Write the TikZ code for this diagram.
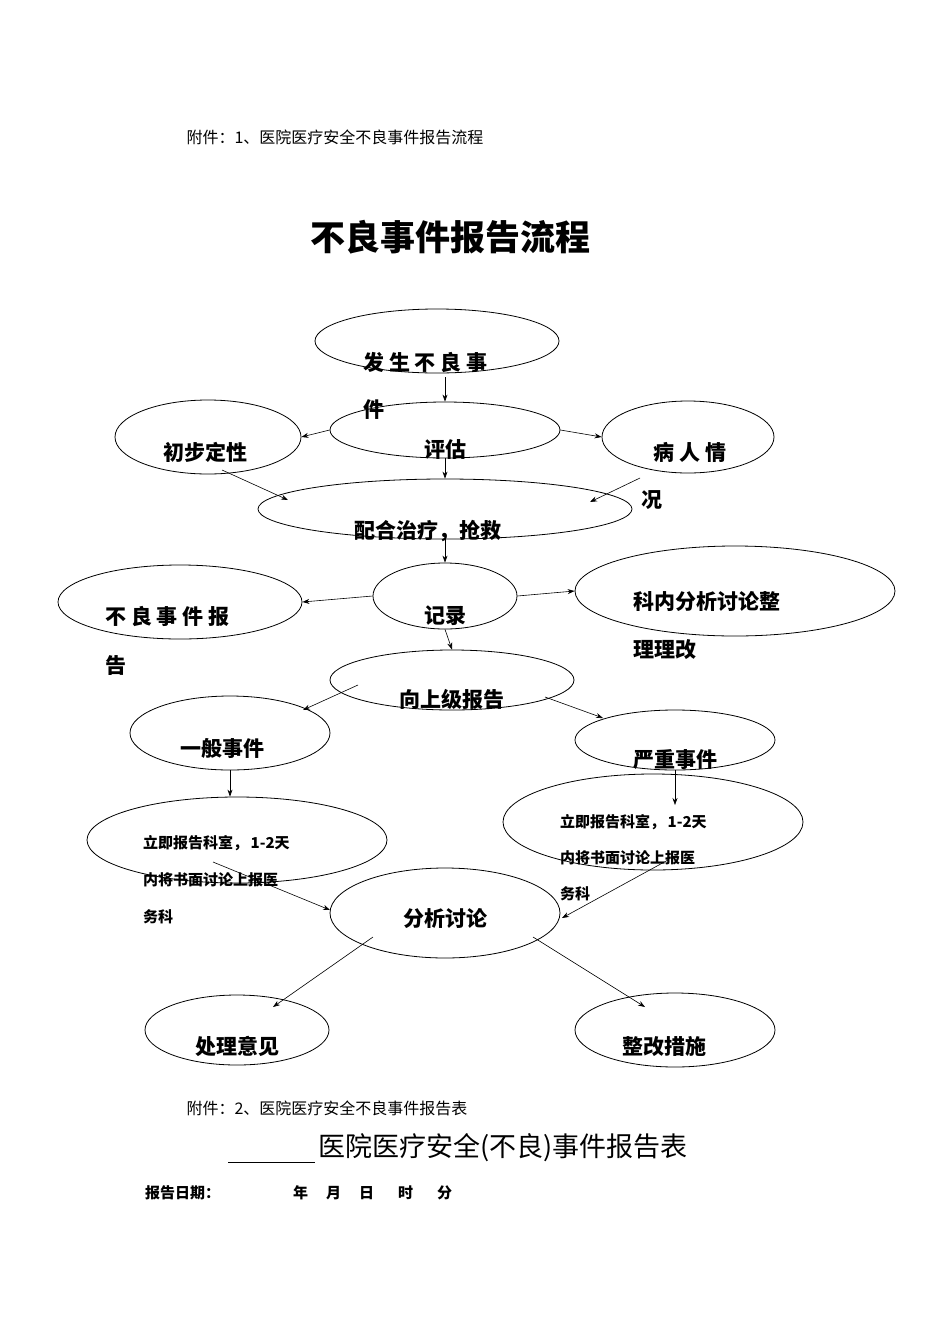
\documentclass[tikz,border=0pt]{standalone}
\usepackage{fontspec}
\setmainfont{Noto Sans CJK SC}
\usetikzlibrary{shapes.geometric,arrows.meta}
\begin{document}
\begin{tikzpicture}[x=1pt,y=-1pt,
 el/.style={draw,ellipse,line width=0.8pt,inner sep=0pt},
 tx/.style={font=\fontsize{21}{21}\selectfont\bfseries,inner sep=0pt},
 sm/.style={font=\fontsize{15}{15}\selectfont\bfseries,inner sep=0pt,anchor=west},
 ar/.style={-{Stealth[length=7pt,width=5pt]},line width=0.6pt}]
\useasboundingbox[fill=white] (0,0) rectangle (950,1344);
\node[anchor=west,font=\fontsize{16}{16}\selectfont] (h1) at (183,137) {附件：1、医院医疗安全不良事件报告流程};
\node[font=\fontsize{35}{35}\selectfont\bfseries] (t1) at (450,237) {不良事件报告流程};
% ellipses
\node[el,minimum width=244,minimum height=64] (fs) at (437,341) {};
\node[el,minimum width=230,minimum height=56] (pg) at (445,430) {};
\node[el,minimum width=186,minimum height=74] (cb) at (208,437) {};
\node[el,minimum width=172,minimum height=72] (br) at (688,437) {};
\node[el,minimum width=374,minimum height=60] (pz) at (445,509) {};
\node[el,minimum width=144,minimum height=66] (jl) at (445,596) {};
\node[el,minimum width=244,minimum height=74] (bl) at (180,602) {};
\node[el,minimum width=320,minimum height=90] (kn) at (735,591) {};
\node[el,minimum width=244,minimum height=60] (xs) at (452,680) {};
\node[el,minimum width=200,minimum height=74] (yb) at (230,733) {};
\node[el,minimum width=200,minimum height=60] (yz) at (675,740) {};
\node[el,minimum width=300,minimum height=86] (lj1) at (237,840) {};
\node[el,minimum width=300,minimum height=96] (lj2) at (653,822) {};
\node[el,minimum width=230,minimum height=90] (fx) at (445,913) {};
\node[el,minimum width=184,minimum height=70] (cl) at (237,1030) {};
\node[el,minimum width=200,minimum height=74] (zg) at (675,1030) {};
% texts
\node[tx,anchor=west] (tfs) at (363,363) {发 生 不 良 事};
\node[tx,anchor=west] (tfs2) at (363,410) {件};
\node[tx] (tpg) at (445,450) {评估};
\node[tx] (tcb) at (205,452) {初步定性};
\node[tx] (tbr) at (690,452) {病 人 情};
\node[tx] (tbr2) at (652,500) {况};
\node[tx] (tpz) at (428,531) {配合治疗，抢救};
\node[tx] (tjl) at (445,616) {记录};
\node[tx,anchor=west] (tbl) at (105,617) {不 良 事 件 报};
\node[tx,anchor=west] (tbl2) at (105,666) {告};
\node[tx,anchor=west] (tkn) at (633,602) {科内分析讨论整};
\node[tx,anchor=west] (tkn2) at (633,650) {理理改};
\node[tx] (txs) at (452,699) {向上级报告};
\node[tx] (tyb) at (222,748) {一般事件};
\node[tx] (tyz) at (675,760) {严重事件};
\node[sm] (a1) at (143,843) {立即报告科室，\,1-2天};
\node[sm] (a2) at (143,880) {内将书面讨论上报医};
\node[sm] (a3) at (143,917) {务科};
\node[sm] (b1) at (560,822) {立即报告科室，\,1-2天};
\node[sm] (b2) at (560,858) {内将书面讨论上报医};
\node[sm] (b3) at (560,894) {务科};
\node[tx] (tfx) at (445,918) {分析讨论};
\node[tx] (tcl) at (237,1046) {处理意见};
\node[tx] (tzg) at (664,1046) {整改措施};
% coordinates
\coordinate (c1) at (445,377); \coordinate (c2) at (222,470); \coordinate (c3) at (288,500);
\coordinate (c4) at (640,478); \coordinate (c5) at (590,502);
\coordinate (c6) at (358,685); \coordinate (c7) at (303,710);
\coordinate (c8) at (545,697); \coordinate (c9) at (603,718);
\coordinate (d1) at (230,770); \coordinate (d2) at (675,770);
\coordinate (d3) at (213,862); \coordinate (d4) at (330,910);
\coordinate (d5) at (668,860); \coordinate (d6) at (562,918);
\coordinate (d7) at (373,937); \coordinate (d8) at (273,1007);
\coordinate (d9) at (533,937); \coordinate (d10) at (645,1007);
% arrows
\draw[ar] (c1) -- (pg.north);
\draw[ar] (pg.west) -- (cb.east);
\draw[ar] (pg.east) -- (br.west);
\draw[ar] (pg.south) -- (pz.north);
\draw[ar] (c2) -- (c3);
\draw[ar] (c4) -- (c5);
\draw[ar] (pz.south) -- (jl.north);
\draw[ar] (jl.west) -- (bl.east);
\draw[ar] (jl.east) -- (kn.west);
\draw[ar] (jl.south) -- (xs.north);
\draw[ar] (c6) -- (c7);
\draw[ar] (c8) -- (c9);
\draw[ar] (d1) -- (lj1.north -| d1);
\draw[ar] (d2) -- (d2 |- 0,805);
\draw[ar] (d3) -- (d4);
\draw[ar] (d5) -- (d6);
\draw[ar] (d7) -- (d8);
\draw[ar] (d9) -- (d10);
% footer
\node[anchor=west,font=\fontsize{16}{16}\selectfont] (h2) at (183,1108) {附件：2、医院医疗安全不良事件报告表};
\node[anchor=west,font=\fontsize{27}{27}\selectfont] (t2) at (315,1148) {医院医疗安全(不良)事件报告表};
\coordinate (u1) at (228,1162); \coordinate (u2) at (315,1162);
\draw[line width=0.8pt] (u1) -- (u2);
\node[sm] (rd) at (145,1193) {报告日期：};
\node[sm] (rd2) at (293,1193) {年\hspace{1.2em}月\hspace{1.2em}日\hspace{1.6em}时\hspace{1.6em}分};
\end{tikzpicture}
\end{document}
